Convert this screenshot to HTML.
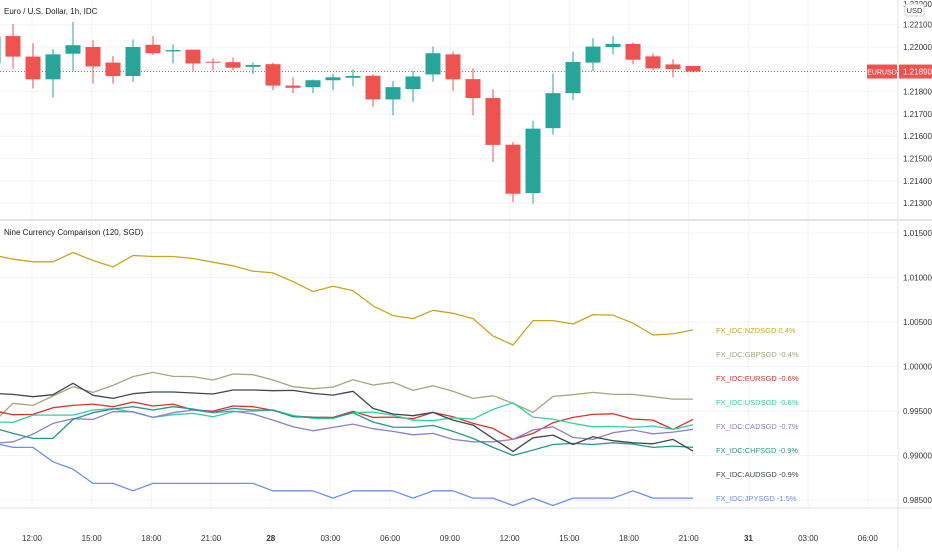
<!DOCTYPE html>
<html><head><meta charset="utf-8"><style>
body{margin:0;background:#fff;}
svg text{font-family:"Liberation Sans",sans-serif;}
</style></head><body>
<svg id="c" width="932" height="550" xmlns="http://www.w3.org/2000/svg"></svg>
<script>
const times=["12:00","15:00","18:00","21:00","28","03:00","06:00","09:00","12:00","15:00","18:00","21:00","31","03:00","06:00"];
const topTicks=[1.221,1.220,1.219,1.218,1.217,1.216,1.215,1.214,1.213];
const botTicks=[1.015,1.010,1.005,1.000,0.995,0.990,0.985];
const opens=[1.21927,1.22049,1.21957,1.21855,1.21970,1.22000,1.21930,1.21870,1.22010,1.21980,1.21988,1.21934,1.21932,1.21911,1.21923,1.21827,1.21820,1.21851,1.21862,1.21871,1.21765,1.21811,1.21877,1.21967,1.21856,1.21771,1.21562,1.21345,1.21636,1.21793,1.21930,1.22000,1.22014,1.21958,1.21922,1.21915];
const highs=[1.22047,1.22103,1.22016,1.21990,1.22112,1.22031,1.21960,1.22034,1.22049,1.22012,1.21988,1.21949,1.21953,1.21930,1.21930,1.21864,1.21854,1.21881,1.21899,1.21878,1.21847,1.21894,1.22002,1.21979,1.21904,1.21811,1.21574,1.21669,1.21881,1.21979,1.22039,1.22049,1.22020,1.21972,1.21945,1.21915];
const lows=[1.21927,1.21904,1.21814,1.21774,1.21894,1.21836,1.21836,1.21844,1.21964,1.21926,1.21894,1.21894,1.21896,1.21878,1.21806,1.21794,1.21794,1.21806,1.21824,1.21732,1.21694,1.21754,1.21844,1.21804,1.21694,1.21484,1.21304,1.21297,1.21607,1.21762,1.21892,1.21967,1.21924,1.21896,1.21864,1.21886];
const closes=[1.22047,1.21957,1.21855,1.21967,1.22008,1.21913,1.21870,1.22000,1.21972,1.21986,1.21926,1.21931,1.21907,1.21919,1.21827,1.21817,1.21851,1.21864,1.21870,1.21765,1.21820,1.21868,1.21972,1.21855,1.21771,1.21561,1.21342,1.21634,1.21793,1.21933,1.22002,1.22014,1.21943,1.21904,1.21901,1.21890];
const nzd=[1.01254,1.01206,1.01176,1.01176,1.01281,1.01191,1.01119,1.01247,1.01236,1.01236,1.01213,1.01172,1.01131,1.01071,1.01052,1.00954,1.00842,1.00902,1.00853,1.00681,1.00572,1.00538,1.00632,1.00598,1.00538,1.00343,1.00242,1.00516,1.00516,1.00478,1.00583,1.00576,1.00486,1.00354,1.00366,1.00411];
const gbp=[0.99368,0.99586,0.99563,0.99668,0.99773,0.99709,0.99788,0.99886,0.99934,0.99889,0.99886,0.99848,0.99916,0.99908,0.99848,0.99773,0.99751,0.99769,0.99852,0.99792,0.99822,0.99732,0.99784,0.99721,0.99642,0.99672,0.99586,0.99484,0.99664,0.99683,0.99709,0.99687,0.99687,0.99661,0.99634,0.99634];
const eur=[0.99503,0.99458,0.99462,0.99537,0.99563,0.99578,0.99548,0.99601,0.99556,0.99578,0.99511,0.99499,0.99556,0.99548,0.99507,0.99443,0.99432,0.99428,0.99496,0.99428,0.99432,0.99413,0.99484,0.99436,0.99361,0.99304,0.99181,0.99248,0.99368,0.99428,0.99462,0.99469,0.99409,0.99398,0.99293,0.99406];
const usd=[0.99379,0.99372,0.99454,0.99454,0.99454,0.99511,0.99526,0.99488,0.99428,0.99458,0.99473,0.99436,0.99492,0.99499,0.99511,0.99451,0.99417,0.99417,0.99481,0.99488,0.99454,0.99398,0.99391,0.99424,0.99409,0.99518,0.99593,0.99432,0.99409,0.99361,0.99323,0.99327,0.99316,0.99331,0.99293,0.99346];
const cad=[0.99136,0.99154,0.99241,0.99361,0.99413,0.99406,0.99492,0.99492,0.99428,0.99481,0.99511,0.99481,0.99499,0.99466,0.99398,0.99323,0.99278,0.99316,0.99353,0.99301,0.99271,0.99233,0.99248,0.99181,0.99154,0.99154,0.99181,0.99286,0.99323,0.99203,0.99181,0.99256,0.99286,0.99244,0.99263,0.99293];
const chf=[0.99312,0.99248,0.99192,0.99192,0.99406,0.99481,0.99522,0.99548,0.99511,0.99548,0.99522,0.99484,0.99529,0.99511,0.99511,0.99436,0.99428,0.99424,0.99481,0.99376,0.99319,0.99316,0.99338,0.99271,0.99192,0.99091,0.99001,0.99061,0.99124,0.99136,0.99124,0.99143,0.99128,0.99091,0.99106,0.99091];
const aud=[0.99698,0.99687,0.99661,0.99683,0.99811,0.99676,0.99642,0.99694,0.99713,0.99713,0.99702,0.99691,0.99736,0.99736,0.99728,0.99732,0.99698,0.99679,0.99721,0.99529,0.99466,0.99447,0.99484,0.99398,0.99342,0.99192,0.99046,0.99199,0.99229,0.99124,0.99211,0.99166,0.99143,0.99132,0.99181,0.99049];
const jpy=[0.99143,0.99091,0.99091,0.98929,0.98847,0.98686,0.98686,0.98603,0.98686,0.98686,0.98686,0.98686,0.98686,0.98686,0.98603,0.98603,0.98603,0.98521,0.98603,0.98603,0.98603,0.98521,0.98603,0.98603,0.98521,0.98521,0.98438,0.98521,0.98438,0.98521,0.98521,0.98521,0.98603,0.98521,0.98521,0.98521];
const seriesNames=["FX_IDC:NZDSGD 0.4%","FX_IDC:GBPSGD -0.4%","FX_IDC:EURSGD -0.6%","FX_IDC:USDSGD -0.6%","FX_IDC:CADSGD -0.7%","FX_IDC:CHFSGD -0.9%","FX_IDC:AUDSGD -0.9%","FX_IDC:JPYSGD -1.5%"];
const seriesKeys=["nzd","gbp","eur","usd","cad","chf","aud","jpy"];
const seriesData=[nzd,gbp,eur,usd,cad,chf,aud,jpy];
const seriesColors=["#c9a61e","#aaa47c","#d9342b","#2fd3a0","#8a80cc","#22998b","#3b4950","#6a8ff0"];

const NS="http://www.w3.org/2000/svg";
const svg=document.getElementById('c');
function mk(t,a,p){const e=document.createElementNS(NS,t);for(const k in a)e.setAttribute(k,a[k]);(p||svg).appendChild(e);return e;}
const xAt=i=>-7+20*i;
const yTop=p=>47+(1.22-p)*22300;
const yBot=v=>366.5-(v-1)*8900;
const PX=898;

times.forEach((t,i)=>{const x=32+i*59.7;
 const g=mk('line',{x1:x,x2:x,y1:0,y2:508,stroke:'#f2f4f8','stroke-width':1});
 
 const tx=mk('text',{x:x,y:541,'font-size':8,'text-anchor':'middle',fill:'#333','font-weight':(t==='28'||t==='31')?'bold':'normal'});tx.textContent=t;
 });
topTicks.forEach(v=>{const y=yTop(v);
 const g=mk('line',{x1:0,x2:PX,y1:y,y2:y,stroke:'#f0f3fa'});
 const t=mk('text',{x:903,y:y+3,'font-size':8,fill:'#333'});t.textContent=v.toFixed(5);
 });
botTicks.forEach(v=>{const y=yBot(v);
 const g=mk('line',{x1:0,x2:PX,y1:y,y2:y,stroke:'#f0f3fa'});
 const t=mk('text',{x:903,y:y+3,'font-size':8,fill:'#333'});t.textContent=v.toFixed(5);
 });
let e;
e=mk('line',{x1:0,x2:932,y1:220,y2:220,stroke:'#e0e3eb','stroke-width':2});
e=mk('line',{x1:PX,x2:PX,y1:0,y2:550,stroke:'#e0e3eb'});
e=mk('line',{x1:0,x2:932,y1:508,y2:508,stroke:'#e0e3eb'});
e=mk('text',{x:903,y:7,'font-size':8,fill:'#333'});e.textContent='1.22200';
e=mk('rect',{x:905,y:4,width:19,height:12,fill:'#fff',stroke:'#d0d3da',rx:2});
e=mk('text',{x:914.5,y:13,'font-size':7.5,fill:'#333','text-anchor':'middle'});e.textContent='USD';

opens.forEach((o,i)=>{const c=closes[i],up=c>=o,col=up?'#26a69a':'#ef5350',x=xAt(i);
 const w=mk('line',{x1:x,x2:x,y1:yTop(highs[i]),y2:yTop(lows[i]),stroke:col,'stroke-width':1});
 
 const t=Math.min(yTop(o),yTop(c)),h=Math.max(1,Math.abs(yTop(o)-yTop(c)));
 const b=mk('rect',{x:x-7.5,y:t,width:15,height:h,fill:col});
 });
const lastY=yTop(closes[closes.length-1]);
e=mk('line',{x1:0,x2:PX,y1:lastY,y2:lastY,stroke:'#ef5350','stroke-dasharray':'1,2'});
e=mk('rect',{x:867,y:lastY-7,width:30,height:14,fill:'#ef5350'});
e=mk('rect',{x:899,y:lastY-7,width:33,height:14,fill:'#ef5350'});
e=mk('text',{x:882,y:lastY+3,'font-size':7,fill:'#fff','text-anchor':'middle'});e.textContent='EURUSD';
e=mk('text',{x:903,y:lastY+3,'font-size':8,fill:'#fff'});e.textContent=closes[closes.length-1].toFixed(5);
e=mk('text',{x:4,y:14,'font-size':8,fill:'#222'});e.textContent='Euro / U.S. Dollar, 1h, IDC';
e=mk('text',{x:4,y:235,'font-size':8,fill:'#222'});e.textContent='Nine Currency Comparison (120, SGD)';

seriesData.forEach((arr,s)=>{
 const d=arr.map((v,i)=>(i?'L':'M')+xAt(i)+','+yBot(v).toFixed(1)).join('');
 const p=mk('path',{d:d,fill:'none',stroke:seriesColors[s],'stroke-width':1.3,'stroke-linejoin':'round'});
 
 const t=mk('text',{x:716,y:333+s*24,'font-size':7.5,fill:seriesColors[s]});t.textContent=seriesNames[s];
 });
</script>
</body></html>
